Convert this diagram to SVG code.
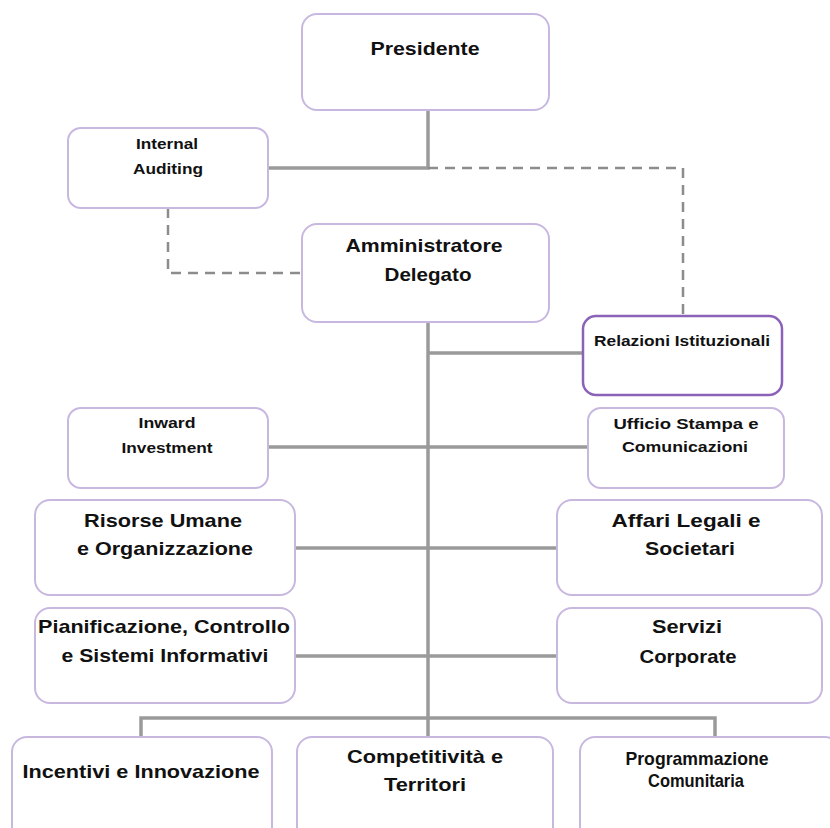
<svg xmlns="http://www.w3.org/2000/svg" width="830" height="828" viewBox="0 0 830 828">
<style>
.box{fill:#fff;stroke:#c8b8e0;stroke-width:2}
.box2{fill:#fff;stroke:#8a62b8;stroke-width:2.5}
.ln{fill:none;stroke:#9a9a9a;stroke-width:3.5}
.dl{fill:none;stroke:#8c8c8c;stroke-width:2.5;stroke-dasharray:10 7}
text{font-family:"Liberation Sans",Arial,sans-serif;font-weight:bold;fill:#111;text-anchor:middle}
.b{font-size:19px}
.s{font-size:15px}
</style>
<rect width="830" height="828" fill="#fff"/>
<g id="connectors">
<polyline class="ln" points="428,110 428,168 268,168"/>
<polyline class="dl" points="428,168 683,168 683,317"/>
<polyline class="dl" points="168,208 168,273 302,273"/>
<line class="ln" x1="428" y1="322" x2="428" y2="718"/>
<line class="ln" x1="428" y1="353" x2="583" y2="353"/>
<line class="ln" x1="268" y1="447" x2="588" y2="447"/>
<line class="ln" x1="295" y1="548" x2="557" y2="548"/>
<line class="ln" x1="295" y1="656" x2="557" y2="656"/>
<polyline class="ln" points="141,737 141,718 715,718 715,737"/>
<line class="ln" x1="428" y1="718" x2="428" y2="737"/>
</g>
<g id="presidente">
<rect class="box" x="302" y="14" width="247" height="96" rx="15"/>
<text class="b" x="425" y="55" textLength="109" lengthAdjust="spacingAndGlyphs">Presidente</text>
</g>
<g id="internal-auditing">
<rect class="box" x="68" y="128" width="200" height="80" rx="13"/>
<text class="s" x="167" y="149" textLength="62" lengthAdjust="spacingAndGlyphs">Internal</text>
<text class="s" x="168" y="174" textLength="70" lengthAdjust="spacingAndGlyphs">Auditing</text>
</g>
<g id="amministratore-delegato">
<rect class="box" x="302" y="224" width="247" height="98" rx="15"/>
<text class="b" x="424" y="252" textLength="157" lengthAdjust="spacingAndGlyphs">Amministratore</text>
<text class="b" x="428" y="281" textLength="87" lengthAdjust="spacingAndGlyphs">Delegato</text>
</g>
<g id="relazioni-istituzionali">
<rect class="box2" x="583" y="316" width="199" height="79" rx="13"/>
<text class="s" x="682" y="346" textLength="176" lengthAdjust="spacingAndGlyphs">Relazioni Istituzionali</text>
</g>
<g id="inward-investment">
<rect class="box" x="68" y="408" width="200" height="80" rx="13"/>
<text class="s" x="167" y="428" textLength="57" lengthAdjust="spacingAndGlyphs">Inward</text>
<text class="s" x="167" y="453" textLength="91" lengthAdjust="spacingAndGlyphs">Investment</text>
</g>
<g id="ufficio-stampa">
<rect class="box" x="588" y="408" width="196" height="80" rx="13"/>
<text class="s" x="686" y="429" textLength="145" lengthAdjust="spacingAndGlyphs">Ufficio Stampa e</text>
<text class="s" x="685" y="452" textLength="126" lengthAdjust="spacingAndGlyphs">Comunicazioni</text>
</g>
<g id="risorse-umane">
<rect class="box" x="35" y="500" width="260" height="95" rx="15"/>
<text class="b" x="163" y="527" textLength="158" lengthAdjust="spacingAndGlyphs">Risorse Umane</text>
<text class="b" x="165" y="555" textLength="176" lengthAdjust="spacingAndGlyphs">e Organizzazione</text>
</g>
<g id="affari-legali">
<rect class="box" x="557" y="500" width="265" height="95" rx="15"/>
<text class="b" x="686" y="527" textLength="149" lengthAdjust="spacingAndGlyphs">Affari Legali e</text>
<text class="b" x="690" y="555" textLength="90" lengthAdjust="spacingAndGlyphs">Societari</text>
</g>
<g id="pianificazione">
<rect class="box" x="35" y="608" width="260" height="95" rx="15"/>
<text class="b" x="164" y="633" textLength="252" lengthAdjust="spacingAndGlyphs">Pianificazione, Controllo</text>
<text class="b" x="165" y="662" textLength="207" lengthAdjust="spacingAndGlyphs">e Sistemi Informativi</text>
</g>
<g id="servizi-corporate">
<rect class="box" x="557" y="608" width="265" height="95" rx="15"/>
<text class="b" x="687" y="633" textLength="70" lengthAdjust="spacingAndGlyphs">Servizi</text>
<text class="b" x="688" y="663" textLength="97" lengthAdjust="spacingAndGlyphs">Corporate</text>
</g>
<g id="incentivi-innovazione">
<rect class="box" x="12" y="737" width="260" height="110" rx="15"/>
<text class="b" x="141" y="778" textLength="237" lengthAdjust="spacingAndGlyphs">Incentivi e Innovazione</text>
</g>
<g id="competitivita-territori">
<rect class="box" x="297" y="737" width="256" height="110" rx="15"/>
<text class="b" x="425" y="763" textLength="156" lengthAdjust="spacingAndGlyphs">Competitività e</text>
<text class="b" x="425" y="791" textLength="82" lengthAdjust="spacingAndGlyphs">Territori</text>
</g>
<g id="programmazione-comunitaria">
<rect class="box" x="580" y="737" width="260" height="110" rx="15"/>
<text class="b" x="697" y="765" textLength="143" lengthAdjust="spacingAndGlyphs">Programmazione</text>
<text class="b" x="696" y="787" textLength="96" lengthAdjust="spacingAndGlyphs">Comunitaria</text>
</g>
</svg>
